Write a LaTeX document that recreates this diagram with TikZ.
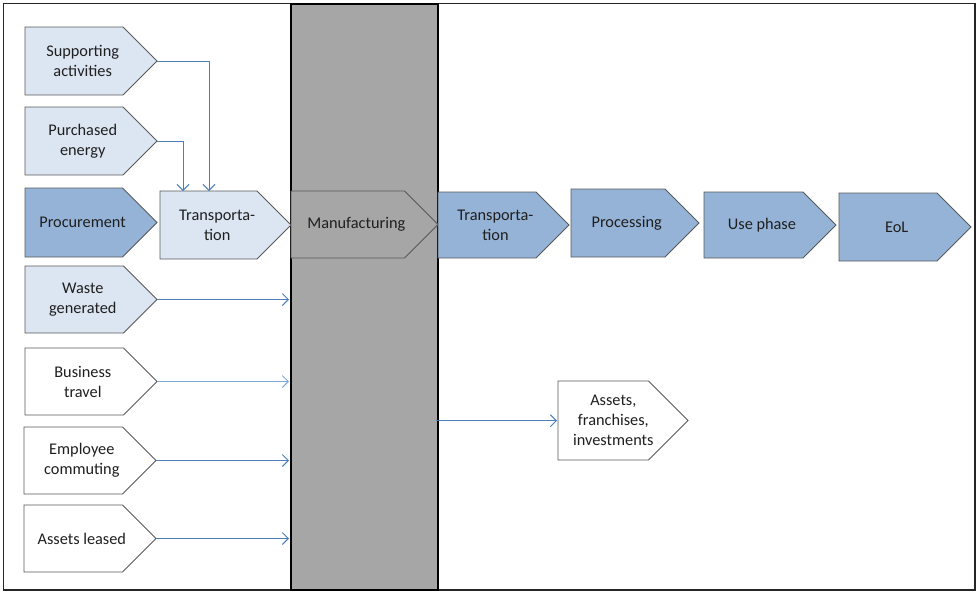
\documentclass[tikz,border=0pt]{standalone}
\usepackage{fontspec}
\setmainfont{Carlito}
\usetikzlibrary{arrows.meta}
\definecolor{paleblue}{HTML}{DCE6F2}
\definecolor{midblue}{HTML}{95B3D7}
\definecolor{linkblue}{HTML}{4A7EBB}
\definecolor{softlink}{HTML}{7FA8DA}
\definecolor{colgray}{HTML}{A6A6A6}
\definecolor{edgegray}{HTML}{595959}
\definecolor{ink}{HTML}{1F1F1F}

\tikzset{
  plateline/.style={draw=edgegray, line width=0.9pt, line join=miter},
  platetext/.style={inner sep=0pt, align=center, text=ink,
    font=\fontsize{16.3}{20}\selectfont},
  link/.style={draw=linkblue, line width=1pt,
    -{Straight Barb[length=6pt,width=12pt]}},
}

% home-plate arrow: name, left, top, width, height, fill, text
\newcommand\plate[7]{%
  \draw[plateline, fill=#6] (#2,#3) -- (#2+#4-#5/2,#3) -- (#2+#4,#3+#5/2)
    -- (#2+#4-#5/2,#3+#5) -- (#2,#3+#5) -- cycle;
  \node[platetext, minimum width=#4-#5/4, minimum height=#5, anchor=north west]
    (#1) at (#2,#3) {#7};
  \coordinate (#1-tip) at (#2+#4,#3+#5/2);
}

\begin{document}
\begin{tikzpicture}[x=1pt, y=-1pt]
\useasboundingbox (0,0) rectangle (976,592);

% outer frame and the manufacturing column
\draw[line width=1.5pt, draw=black!85] (3.5,3.5) rectangle (975,590);
\node[draw=black, line width=2pt, fill=colgray, inner sep=0pt, outer sep=0pt,
  minimum width=147, minimum height=586.5, anchor=north west] (mfgcol) at (291,3.5) {};

% upstream activities
\plate{sup}{25}{27}{132}{68}{paleblue}{Supporting\\activities}
\plate{pur}{25}{107}{132}{68}{paleblue}{Purchased\\energy}
\plate{proc}{25}{188}{132}{69}{midblue}{Procurement}
\plate{transL}{160}{191}{131}{68}{paleblue}{Transporta-\\tion}
\plate{waste}{25}{266}{132}{67}{paleblue}{Waste\\generated}
\plate{bus}{25}{348}{132}{67}{white}{Business\\travel}
\plate{emp}{24}{427}{132}{67}{white}{Employee\\commuting}
\plate{leased}{24}{505}{132}{67}{white}{Assets leased}

% core and downstream chain
\plate{manuf}{291}{191}{147}{67}{colgray}{Manufacturing}
\plate{transR}{438}{192}{131}{66}{midblue}{Transporta-\\tion}
\plate{procg}{571}{189}{128}{68}{midblue}{Processing}
\plate{use}{704}{192}{132}{66}{midblue}{Use phase}
\plate{eol}{839}{193}{132}{68}{midblue}{EoL}
\plate{assets}{558}{381}{130}{79}{white}{Assets,\\franchises,\\investments}

% connectors
\draw[link] (sup-tip) -| ([xshift=49pt]transL.north west);
\draw[link] (pur-tip) -| ([xshift=23pt]transL.north west);
\draw[link] (waste-tip) -- ([xshift=-2pt]waste-tip -| mfgcol.west);
\draw[link, draw=softlink] (bus-tip) -- ([xshift=-2pt]bus-tip -| mfgcol.west);
\draw[link] (emp-tip) -- ([xshift=-2pt]emp-tip -| mfgcol.west);
\draw[link] (leased-tip) -- ([xshift=-2pt]leased-tip -| mfgcol.west);
\draw[link] ([xshift=-2pt]assets.west -| mfgcol.east) -- ([xshift=-1pt]assets.west);
\end{tikzpicture}
\end{document}
